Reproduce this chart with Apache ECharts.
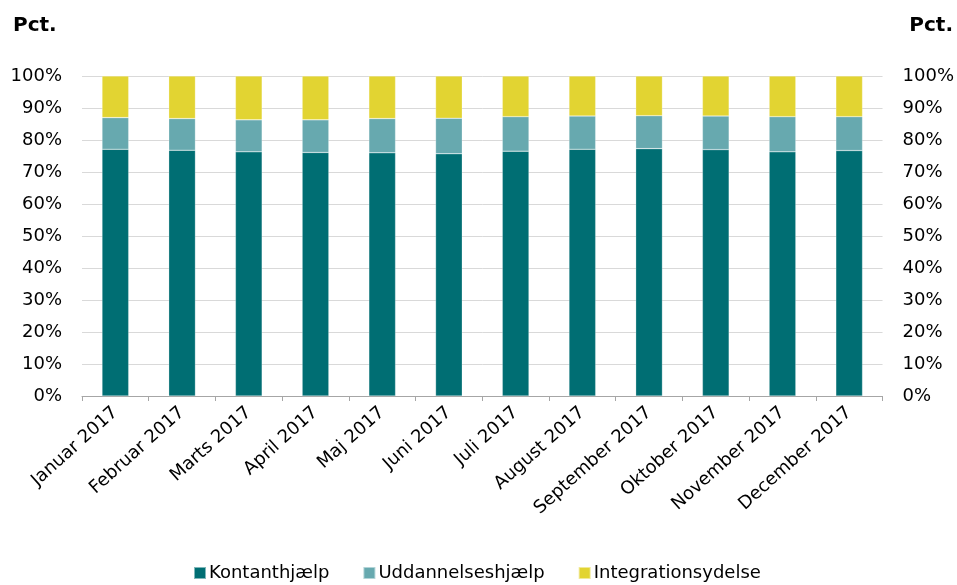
<!DOCTYPE html>
<html>
<head>
<meta charset="utf-8">
<script src="https://cdn.jsdelivr.net/npm/echarts@6/dist/echarts.min.js"></script>
<style>
  html, body { margin: 0; padding: 0; background: #fff; }
  #chart { width: 957px; height: 585px; }
</style>
</head>
<body>
<div id="chart"></div>
<script>
const months = ["Januar 2017", "Februar 2017", "Marts 2017", "April 2017", "Maj 2017", "Juni 2017",
  "Juli 2017", "August 2017", "September 2017", "Oktober 2017", "November 2017", "December 2017"];
const seriesNames = ["Kontanthjælp", "Uddannelseshjælp", "Integrationsydelse"];
// andel i pct.
const kontanthjaelp = [77.1, 76.8, 76.3, 76.1, 76.0, 75.7, 76.5, 77.1, 77.3, 77.0, 76.3, 76.7];
const uddannelseshjaelp = [9.9, 9.9, 10.0, 10.2, 10.7, 11.1, 10.8, 10.4, 10.3, 10.5, 11.0, 10.6];
const integrationsydelse = [13.0, 13.3, 13.7, 13.7, 13.3, 13.2, 12.7, 12.5, 12.4, 12.5, 12.7, 12.7];
const yTicks = [0, 10, 20, 30, 40, 50, 60, 70, 80, 90, 100];

const colors = ["#006e73", "#67a9af", "#e2d432"];
const font = "DejaVu Sans, Verdana, sans-serif";

const chart = echarts.init(document.getElementById("chart"));

function yAxis(pos) {
  return {
    type: "value", position: pos, min: yTicks[0], max: yTicks[yTicks.length - 1], interval: 10,
    axisLine: { show: false }, axisTick: { show: false },
    splitLine: { show: pos === "left", lineStyle: { color: "#d9d9d9", width: 1 } },
    axisLabel: { formatter: "{value}%", color: "#000", fontSize: 18, fontFamily: font, margin: 20 }
  };
}

const data = [kontanthjaelp, uddannelseshjaelp, integrationsydelse];

chart.setOption({
  animation: false,
  color: colors,
  title: [
    { text: "Pct.", left: 8, top: 11, textStyle: { fontSize: 20, fontWeight: "bold", fontFamily: font, color: "#000" } },
    { text: "Pct.", right: -1, top: 11, textStyle: { fontSize: 20, fontWeight: "bold", fontFamily: font, color: "#000" } }
  ],
  grid: { left: 82, right: 74, top: 76, bottom: 189, containLabel: false },
  legend: {
    top: 559, left: 188, itemWidth: 12, itemHeight: 12, itemGap: 33, icon: "rect",
    textStyle: { fontSize: 18, fontFamily: font, color: "#000", padding: [0, 0, 0, -2] },
    data: seriesNames
  },
  xAxis: {
    type: "category", data: months,
    axisLine: { show: true, lineStyle: { color: "#a6a6a6" } },
    axisTick: { show: true, length: 5, lineStyle: { color: "#a6a6a6" } },
    axisLabel: { rotate: 42, interval: 0, color: "#000", fontSize: 18, fontFamily: font, margin: 14 }
  },
  yAxis: [yAxis("left"), yAxis("right")],
  series: seriesNames.map((name, i) => ({
    name: name, type: "bar", stack: "total", data: data[i],
    barWidth: "40%",
    itemStyle: { color: colors[i], borderColor: "rgba(255,255,255,0.5)", borderWidth: 0.5 }
  }))
});
</script>
</body>
</html>
